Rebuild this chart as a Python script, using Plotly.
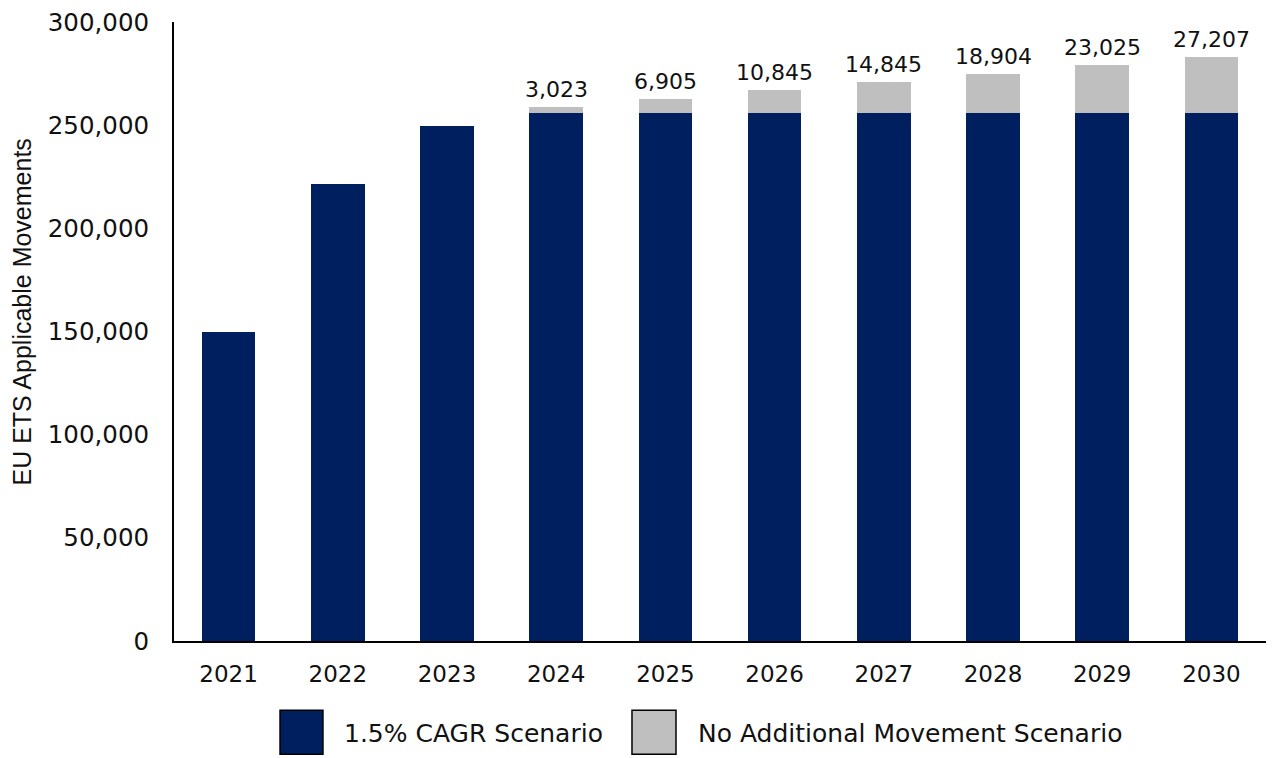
import plotly.graph_objects as go

years = ["2021", "2022", "2023", "2024", "2025", "2026", "2027", "2028", "2029", "2030"]
cagr_base = [150000, 221500, 249700, 256000, 256000, 256000, 256000, 256000, 256000, 256000]
no_additional = [None, None, None, 3023, 6905, 10845, 14845, 18904, 23025, 27207]
y_ticks = [0, 50000, 100000, 150000, 200000, 250000, 300000]
legend_names = ["1.5% CAGR Scenario", "No Additional Movement Scenario"]

NAVY = "#001F5F"
GRAY = "#BFBFBF"
FONT = "DejaVu Sans"

fig = go.Figure()
fig.add_trace(go.Bar(x=years, y=cagr_base, name=legend_names[0], marker=dict(color=NAVY, line=dict(width=0)), showlegend=False))
fig.add_trace(go.Bar(x=years, y=no_additional, name=legend_names[1], marker=dict(color=GRAY, line=dict(width=0)), showlegend=False))

annotations = []
for i, (b, a) in enumerate(zip(cagr_base, no_additional)):
    if a is not None:
        annotations.append(dict(x=i, y=b + a, text=f"{a:,}", showarrow=False, xref="x", yref="y",
                                yanchor="bottom", yshift=3, font=dict(family=FONT, size=22, color="#111111")))

annotations.append(dict(x=-0.139, y=0.531, xref="paper", yref="paper", text="EU ETS Applicable Movements",
                        textangle=-90, showarrow=False, xanchor="center", yanchor="middle",
                        font=dict(family="Liberation Sans", size=25, color="#111111")))

shapes = []
legend_boxes = [(0.0971, 0.1364, NAVY), (0.4194, 0.4597, GRAY)]
legend_text_x = [0.1538, 0.478]
for (x0, x1, c), tx, name in zip(legend_boxes, legend_text_x, legend_names):
    shapes.append(dict(type="rect", xref="paper", yref="paper", x0=x0, x1=x1, y0=-0.1828, y1=-0.1117,
                       fillcolor=c, line=dict(color="#000000", width=1.5)))
    annotations.append(dict(x=tx, y=-0.1489, xref="paper", yref="paper", text=name, showarrow=False,
                            xanchor="left", yanchor="middle", font=dict(family=FONT, size=25, color="#111111")))

fig.update_layout(
    barmode="stack",
    bargap=0.51,
    width=1272, height=758,
    margin=dict(l=174, r=6, t=22, b=117),
    plot_bgcolor="white", paper_bgcolor="white",
    font=dict(family=FONT, size=21, color="#111111"),
    annotations=annotations,
    shapes=shapes,
)
fig.update_xaxes(type="category", range=[-0.5, len(years) - 0.5], showline=True, linecolor="#000000", linewidth=2,
                 ticks="", showgrid=False, tickfont=dict(family=FONT, size=23), ticklabelstandoff=11)
fig.update_yaxes(range=[0, 300000], tickvals=y_ticks, tickformat=",", showline=True, linecolor="#000000",
                 linewidth=2, ticks="", showgrid=False, zeroline=False,
                 tickfont=dict(family=FONT, size=24.5), ticklabelstandoff=18)

fig.write_html("out.html", config={"displayModeBar": False},
               post_script="document.body.style.margin='0';document.body.style.overflow='hidden';")
